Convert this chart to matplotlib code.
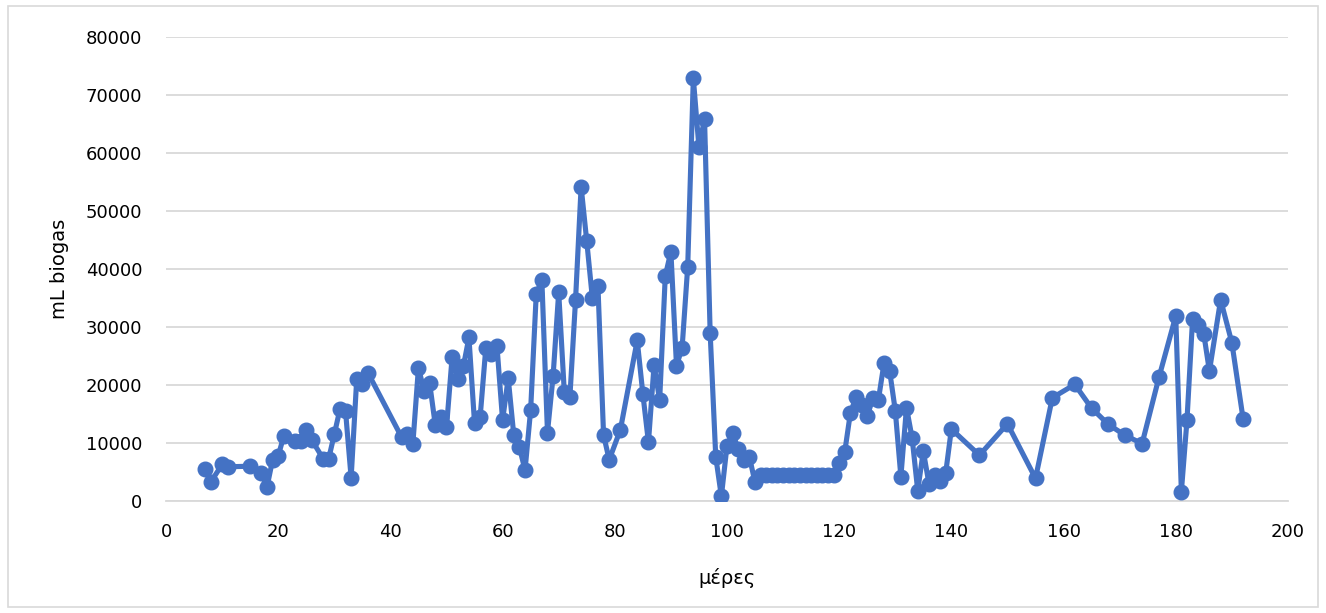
import matplotlib.pyplot as plt
import matplotlib.patches as patches

# Daily biogas volume (mL) per day of operation
days = [7, 8, 10, 11, 15, 17, 18, 19, 20, 21, 23, 24, 25, 26, 28, 29, 30, 31, 32, 33,
        34, 35, 36, 42, 43, 44, 45, 46, 47, 48, 49, 50, 51, 52, 53, 54, 55, 56, 57, 58,
        59, 60, 61, 62, 63, 64, 65, 66, 67, 68, 69, 70, 71, 72, 73, 74, 75, 76, 77, 78,
        79, 81, 84, 85, 86, 87, 88, 89, 90, 91, 92, 93, 94, 95, 96, 97, 98, 99, 100, 101,
        102, 103, 104, 105, 106, 107, 108, 109, 110, 111, 112, 113, 114, 115, 116, 117, 118, 119,
        120, 121, 122, 123, 124, 125, 126, 127, 128, 129, 130, 131, 132, 133, 134, 135, 136, 137,
        138, 139, 140, 145, 150, 155, 158, 162, 165, 168, 171, 174, 177, 180, 181, 182, 183, 184,
        185, 186, 188, 190, 192]
biogas = [5500, 3300, 6300, 5900, 6000, 4800, 2400, 7100, 7800, 11200, 10300, 10300, 12200, 10500,
          7300, 7300, 11500, 15800, 15500, 4000,
          21100, 20100, 22100, 11000, 11500, 9800, 23000, 19000, 20300, 13100, 14500, 12700, 24800,
          21000, 23200, 28200, 13400, 14500, 26300, 25400,
          26700, 13900, 21200, 11300, 9300, 5300, 15700, 35700, 38100, 11800, 21500, 36000, 18800,
          18000, 34600, 54200, 44800, 35000, 37000, 11400,
          7100, 12300, 27700, 18500, 10100, 23400, 17400, 38800, 43000, 23300, 26400, 40400, 72900,
          61000, 65900, 29000, 7600, 800, 9500, 11700,
          9000, 7100, 7600, 3200, 4500, 4500, 4500, 4500, 4500, 4500, 4500, 4500, 4500, 4500, 4500,
          4500, 4500, 4500,
          6600, 8500, 15200, 17900, 16500, 14600, 17700, 17500, 23800, 22400, 15600, 4200, 16100,
          10900, 1800, 8600, 3000, 4500,
          3400, 4900, 12400, 7900, 13300, 3900, 17800, 20100, 16000, 13200, 11300, 9900, 21300,
          31900, 1600, 13900, 31400, 30300,
          28800, 22400, 34700, 27300, 14200]

plt.rcParams['font.family'] = ['DejaVu Sans']

fig = plt.figure(figsize=(13.26, 6.13), dpi=100)
ax = fig.add_axes([0.1252, 0.1827, 0.8461, 0.7569])

ax.plot(days, biogas, color='#4472C4', linewidth=3.7, marker='o', markersize=10.5,
        markerfacecolor='#4472C4', markeredgecolor='#4472C4', zorder=3)

ax.set_xlim(0, 200)
ax.set_ylim(0, 80000)
ax.set_xticks(range(0, 201, 20))
ax.set_yticks(range(0, 80001, 10000))
ax.tick_params(axis='both', length=0, labelsize=13, colors='black')
ax.tick_params(axis='y', pad=17)
ax.tick_params(axis='x', pad=16)

ax.grid(axis='y', color='#D9D9D9', linewidth=1.3, zorder=0)
for side in ['top', 'right', 'left']:
    ax.spines[side].set_visible(False)
ax.spines['bottom'].set_color('#D9D9D9')
ax.spines['bottom'].set_linewidth(1.3)
ax.set_axisbelow(True)

ax.set_xlabel('μέρες', fontsize=14, labelpad=19)
ax.set_ylabel('mL biogas', fontsize=14, labelpad=12)

# light outline round the whole chart
fig.patches.append(patches.Rectangle((0.006, 0.01), 0.988, 0.98, transform=fig.transFigure,
                                     fill=False, edgecolor='#D9D9D9', linewidth=1.2))

fig.savefig('out.png', dpi=100)
